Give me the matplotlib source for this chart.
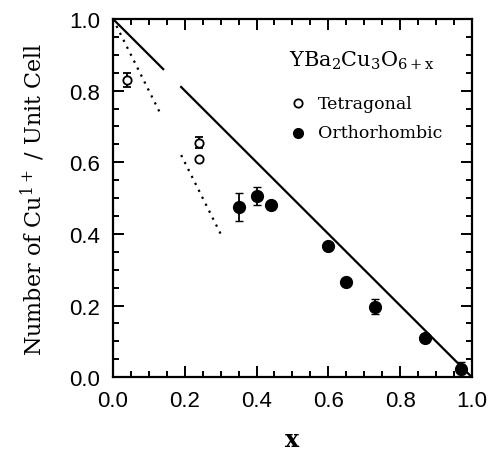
"""
Cu1+ per unit cell vs oxygen content x in YBa2Cu3O6+x
"""

import numpy as np
import matplotlib.pyplot as plt
from matplotlib.ticker import MultipleLocator

plt.rcParams['font.family'] = 'Liberation Sans'
plt.rcParams['mathtext.fontset'] = 'dejavuserif'

# tetragonal (open circles)
tet_x = [0.04, 0.24, 0.24]
tet_y = [0.83, 0.655, 0.61]
tet_err = [0.02, 0.015, 0.0]

# orthorhombic (filled circles)
orth_x = [0.35, 0.40, 0.44, 0.60, 0.65, 0.73, 0.87, 0.97]
orth_y = [0.475, 0.505, 0.48, 0.365, 0.265, 0.197, 0.11, 0.022]
orth_err = [0.04, 0.025, 0.0, 0.0, 0.0, 0.02, 0.0, 0.02]

# model lines (solid: 1 - x, dotted: 1 - 2x), drawn in pieces like the scan
solid_x = [[0.0, 0.14], [0.19, 1.0]]
dot_x = [[0.0, 0.13], [0.19, 0.30]]

fig = plt.figure(figsize=(4.89, 4.64), dpi=100)
ax = fig.add_axes([0.231, 0.185, 0.734, 0.772])

for seg in solid_x:
    xs = np.array(seg)
    ax.plot(xs, 1 - xs, color='black', lw=1.6)
for seg in dot_x:
    xs = np.linspace(seg[0], seg[1], 50)
    ax.plot(xs, 1 - 2 * xs, color='black', lw=1.6, ls=(0, (1, 2.5)))

ax.errorbar(tet_x, tet_y, yerr=tet_err, fmt='o', mfc='white', mec='black',
            ecolor='black', ms=6, mew=1.3, capsize=3, elinewidth=1.3)
ax.errorbar(orth_x, orth_y, yerr=orth_err, fmt='o', mfc='black', mec='black',
            ecolor='black', ms=8.5, capsize=3, elinewidth=1.3)

ax.set_xlim(0, 1.0)
ax.set_ylim(0, 1.0)
ax.xaxis.set_major_locator(MultipleLocator(0.2))
ax.xaxis.set_minor_locator(MultipleLocator(0.05))
ax.yaxis.set_major_locator(MultipleLocator(0.2))
ax.yaxis.set_minor_locator(MultipleLocator(0.05))
ax.tick_params(which='both', direction='in', top=True, right=True, width=1.4)
ax.tick_params(which='major', length=8)
ax.tick_params(which='minor', length=4)
ax.tick_params(axis='both', which='major', labelsize=16, pad=9)
for s in ax.spines.values():
    s.set_linewidth(1.6)

ax.set_xlabel('x', family='DejaVu Serif', fontsize=17, fontweight='bold', labelpad=12)
ax.set_ylabel('Number of Cu$^{1+}$ / Unit Cell', family='DejaVu Serif',
              fontsize=16, labelpad=16)

ax.text(0.49, 0.885, r'YBa$_2$Cu$_3$O$_{6+\mathrm{x}}$', transform=ax.transAxes,
        family='DejaVu Serif', fontsize=15, va='center')
ax.plot([0.515], [0.765], 'o', mfc='white', mec='black', ms=6, mew=1.3,
        transform=ax.transAxes, clip_on=False)
ax.text(0.57, 0.765, 'Tetragonal', transform=ax.transAxes,
        family='DejaVu Serif', fontsize=12.5, va='center')
ax.plot([0.515], [0.683], 'o', color='black', ms=7,
        transform=ax.transAxes, clip_on=False)
ax.text(0.57, 0.683, 'Orthorhombic', transform=ax.transAxes,
        family='DejaVu Serif', fontsize=12.5, va='center')

fig.savefig('out.png', dpi=100)
